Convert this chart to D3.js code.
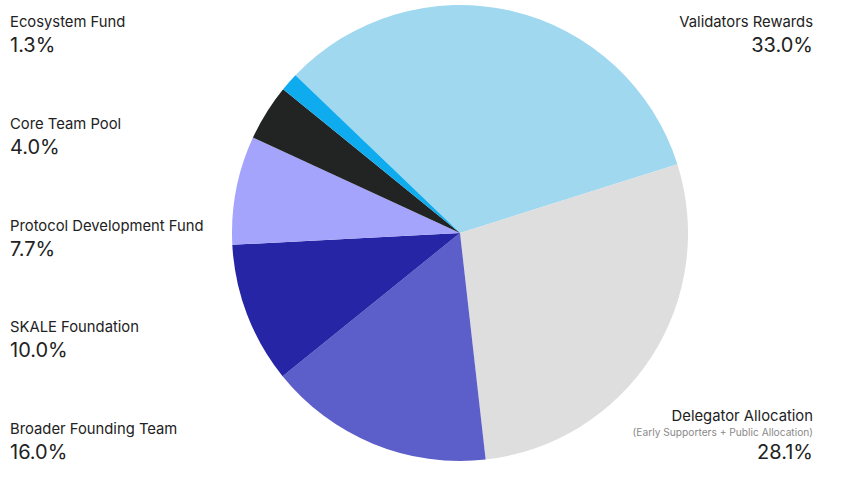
<!DOCTYPE html>
<html><head><meta charset="utf-8">
<script src="https://cdn.jsdelivr.net/npm/d3@7"></script>
<style>body{margin:0;background:#fff}svg{display:block;font-family:Inter,"Noto Sans",sans-serif}</style>
</head><body><svg id="c" width="857" height="488"></svg>
<script>
const categories = ["Validators Rewards","Delegator Allocation","Broader Founding Team","SKALE Foundation","Protocol Development Fund","Core Team Pool","Ecosystem Fund"];
const values = [33.0, 28.1, 16.0, 10.0, 7.7, 4.0, 1.3];
const valueLabels = ["33.0%","28.1%","16.0%","10.0%","7.7%","4.0%","1.3%"];
const subLabels = ["","(Early Supporters + Public Allocation)","","","","",""];
const colors = ["#a0d8ef","#dedede","#5c5ec9","#2525a5","#a4a4fd","#222323","#0eacee"];

const svg = d3.select("#c");
const cx = 460, cy = 233, R = 228;
const startA = -46.2 * Math.PI / 180;
const pie = d3.pie().sort(null).value(d => d).startAngle(startA).endAngle(startA + 2 * Math.PI);
const arc = d3.arc().innerRadius(0).outerRadius(R);
const g = svg.append("g").attr("transform", `translate(${cx},${cy})`);
g.selectAll("path").data(pie(values)).join("path")
  .attr("d", arc).attr("fill", (d, i) => colors[i]);

const leftOrder = [6, 5, 4, 3, 2];
const leftY = d3.scalePoint().domain(leftOrder).range([27, 434]);
leftOrder.forEach(i => {
  const y = leftY(i);
  svg.append("text").attr("x", 10).attr("y", y).attr("font-size", 14.8).attr("fill", "#222").text(categories[i]);
  svg.append("text").attr("x", 10).attr("y", y + 25).attr("font-size", 20).attr("fill", "#222").text(valueLabels[i]);
});
const rx = 813;
svg.append("text").attr("x", rx).attr("y", 27).attr("text-anchor", "end").attr("font-size", 14.8).attr("fill", "#222").text(categories[0]);
svg.append("text").attr("x", rx).attr("y", 52).attr("text-anchor", "end").attr("font-size", 20).attr("fill", "#222").text(valueLabels[0]);
svg.append("text").attr("x", rx).attr("y", 421).attr("text-anchor", "end").attr("font-size", 14.8).attr("fill", "#222").text(categories[1]);
svg.append("text").attr("x", rx).attr("y", 436).attr("text-anchor", "end").attr("font-size", 10.2).attr("fill", "#8a8a8a").text(subLabels[1]);
svg.append("text").attr("x", rx).attr("y", 459).attr("text-anchor", "end").attr("font-size", 20).attr("fill", "#222").text(valueLabels[1]);
</script></body></html>
